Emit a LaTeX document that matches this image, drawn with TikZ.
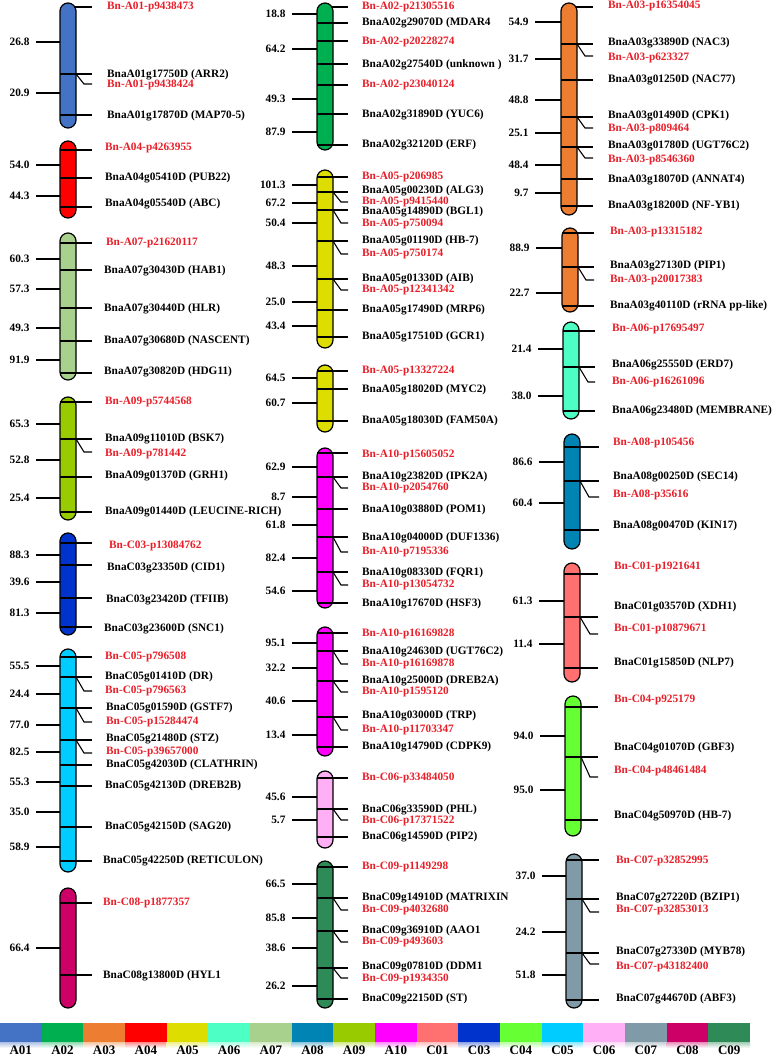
\documentclass[tikz,border=0pt]{standalone}
\usepackage{fontspec}
\setmainfont{Liberation Serif}
\usepackage{tikz}
\usepackage{xcolor}

\definecolor{cA01}{RGB}{68,114,196}
\definecolor{cA02}{RGB}{0,176,80}
\definecolor{cA03}{RGB}{237,125,49}
\definecolor{cA04}{RGB}{255,0,0}
\definecolor{cA05}{RGB}{221,221,0}
\definecolor{cA06}{RGB}{77,255,196}
\definecolor{cA07}{RGB}{169,209,142}
\definecolor{cA08}{RGB}{0,132,180}
\definecolor{cA09}{RGB}{153,204,0}
\definecolor{cA10}{RGB}{255,0,255}
\definecolor{cC01}{RGB}{255,112,112}
\definecolor{cC03}{RGB}{0,51,204}
\definecolor{cC04}{RGB}{102,255,51}
\definecolor{cC05}{RGB}{0,204,255}
\definecolor{cC06}{RGB}{255,175,245}
\definecolor{cC07}{RGB}{128,154,168}
\definecolor{cC08}{RGB}{204,0,102}
\definecolor{cC09}{RGB}{46,139,87}
\definecolor{snpred}{RGB}{232,30,40}

\newcommand{\lblfont}{\bfseries\fontsize{11.3}{13}\selectfont}

\begin{document}
\begin{tikzpicture}[x=1pt,y=-1pt,
  chr/.style={draw=black, line width=1.2pt, rounded corners=8pt},
  mk/.style={line width=1.1pt},
  tick/.style={line width=1.1pt},
  gene/.style={anchor=west, inner sep=0pt, font=\lblfont, text=black},
  snp/.style={gene, text=snpred},
  dist/.style={anchor=east, inner sep=0pt, xshift=-6pt, font=\lblfont},
  key/.style={inner sep=0pt, font=\bfseries\fontsize{13}{15}\selectfont}]
\useasboundingbox (0,0) rectangle (774,1057);

%%%%%%%%%%%%%%%% column 1
% A01
\begin{scope}[xshift=60pt]
  \draw[chr, fill=cA01] (0,3) rectangle (16,128);
  \draw[mk] (14,7) -- (32,7);
  \foreach \y in {74,115} \draw[mk] (0,\y) -- (32,\y);
  \draw[mk] (16,74) -- (24,84) -- (32,84);
  \foreach \y/\d in {42/26.8,93/20.9} \draw[tick] (0,\y) -- (-24,\y) node[dist] (A01d\y) {\d};
  \node[snp]  (A01m1) at (47,7)   {Bn-A01-p9438473};
  \node[gene] (A01g1) at (47,75)  {BnaA01g17750D (ARR2)};
  \node[snp]  (A01m2) at (47,85)  {Bn-A01-p9438424};
  \node[gene] (A01g2) at (47,116) {BnaA01g17870D (MAP70-5)};
\end{scope}
% A04
\begin{scope}[xshift=60pt]
  \draw[chr, fill=cA04] (0,141) rectangle (16,218);
  \foreach \y in {150,178,207} \draw[mk] (0,\y) -- (32,\y);
  \foreach \y/\d in {165/54.0,196/44.3} \draw[tick] (0,\y) -- (-24,\y) node[dist] (A04d\y) {\d};
  \node[snp]  (A04m1) at (45,148) {Bn-A04-p4263955};
  \node[gene] (A04g1) at (45,178) {BnaA04g05410D (PUB22)};
  \node[gene] (A04g2) at (45,204) {BnaA04g05540D (ABC)};
\end{scope}
% A07
\begin{scope}[xshift=60pt]
  \draw[chr, fill=cA07] (0,233) rectangle (16,380);
  \foreach \y in {243,270,308,341,373} \draw[mk] (0,\y) -- (32,\y);
  \foreach \y/\d in {259/60.3,289/57.3,328/49.3,360/91.9} \draw[tick] (0,\y) -- (-24,\y) node[dist] (A07d\y) {\d};
  \node[snp]  (A07m1) at (46,243) {Bn-A07-p21620117};
  \node[gene] (A07g1) at (44,271) {BnaA07g30430D (HAB1)};
  \node[gene] (A07g2) at (44,309) {BnaA07g30440D (HLR)};
  \node[gene] (A07g3) at (44,341) {BnaA07g30680D (NASCENT)};
  \node[gene] (A07g4) at (44,372) {BnaA07g30820D (HDG11)};
\end{scope}
% A09
\begin{scope}[xshift=60pt]
  \draw[chr, fill=cA09] (0,397) rectangle (16,520);
  \foreach \y in {402,439,477,512} \draw[mk] (0,\y) -- (32,\y);
  \draw[mk] (16,439) -- (24,452) -- (32,452);
  \foreach \y/\d in {424/65.3,460/52.8,498/25.4} \draw[tick] (0,\y) -- (-24,\y) node[dist] (A09d\y) {\d};
  \node[snp]  (A09m1) at (45,402) {Bn-A09-p5744568};
  \node[gene] (A09g1) at (45,439) {BnaA09g11010D (BSK7)};
  \node[snp]  (A09m2) at (45,454) {Bn-A09-p781442};
  \node[gene] (A09g2) at (45,476) {BnaA09g01370D (GRH1)};
  \node[gene] (A09g3) at (45,512) {BnaA09g01440D (LEUCINE-RICH)};
\end{scope}
% C03
\begin{scope}[xshift=60pt]
  \draw[chr, fill=cC03] (0,533) rectangle (16,635);
  \foreach \y in {543,565,598,627} \draw[mk] (0,\y) -- (32,\y);
  \foreach \y/\d in {555/88.3,582/39.6,613/81.3} \draw[tick] (0,\y) -- (-24,\y) node[dist] (C03d\y) {\d};
  \node[snp]  (C03m1) at (49,546) {Bn-C03-p13084762};
  \node[gene] (C03g1) at (47,568) {BnaC03g23350D (CID1)};
  \node[gene] (C03g2) at (46,600) {BnaC03g23420D (TFIIB)};
  \node[gene] (C03g3) at (44,629) {BnaC03g23600D (SNC1)};
\end{scope}
% C05
\begin{scope}[xshift=60pt]
  \draw[chr, fill=cC05] (0,649) rectangle (16,872);
  \foreach \y in {657,677,708,740,765,786,827,861} \draw[mk] (0,\y) -- (32,\y);
  \foreach \a/\b in {677/691,708/722,740/753} \draw[mk] (16,\a) -- (24,\b) -- (32,\b);
  \foreach \y/\d in {666/55.5,694/24.4,725/77.0,752/82.5,782/55.3,812/35.0,847/58.9}
    \draw[tick] (0,\y) -- (-24,\y) node[dist] (C05d\y) {\d};
  \node[snp]  (C05m1) at (45,657) {Bn-C05-p796508};
  \node[gene] (C05g1) at (45,677) {BnaC05g01410D (DR)};
  \node[snp]  (C05m2) at (45,691) {Bn-C05-p796563};
  \node[gene] (C05g2) at (46,708) {BnaC05g01590D (GSTF7)};
  \node[snp]  (C05m3) at (46,722) {Bn-C05-p15284474};
  \node[gene] (C05g3) at (46,739) {BnaC05g21480D (STZ)};
  \node[snp]  (C05m4) at (46,752) {Bn-C05-p39657000};
  \node[gene] (C05g4) at (46,765) {BnaC05g42030D (CLATHRIN)};
  \node[gene] (C05g5) at (45,786) {BnaC05g42130D (DREB2B)};
  \node[gene] (C05g6) at (45,827) {BnaC05g42150D (SAG20)};
  \node[gene] (C05g7) at (43,861) {BnaC05g42250D (RETICULON)};
\end{scope}
% C08
\begin{scope}[xshift=60pt]
  \draw[chr, fill=cC08] (0,888) rectangle (16,1008);
  \foreach \y in {903,975} \draw[mk] (0,\y) -- (32,\y);
  \draw[tick] (0,948) -- (-24,948) node[dist] (C08d948) {66.4};
  \node[snp]  (C08m1) at (43,903) {Bn-C08-p1877357};
  \node[gene] (C08g1) at (43,976) {BnaC08g13800D (HYL1};
\end{scope}

%%%%%%%%%%%%%%%% column 2
% A02
\begin{scope}[xshift=317pt]
  \draw[chr, fill=cA02] (0,3) rectangle (16,150);
  \draw[mk] (14,7) -- (31,7);
  \foreach \y in {23,41,64,85,114,145} \draw[mk] (0,\y) -- (31,\y);
  \foreach \y/\d in {14/18.8,49/64.2,99/49.3,132/87.9} \draw[tick] (0,\y) -- (-25,\y) node[dist] (A02d\y) {\d};
  \node[snp]  (A02m1) at (45,7)   {Bn-A02-p21305516};
  \node[gene] (A02g1) at (45,23)  {BnaA02g29070D (MDAR4};
  \node[snp]  (A02m2) at (45,42)  {Bn-A02-p20228274};
  \node[gene] (A02g2) at (45,65)  {BnaA02g27540D (unknown )};
  \node[snp]  (A02m3) at (45,85)  {Bn-A02-p23040124};
  \node[gene] (A02g3) at (45,115) {BnaA02g31890D (YUC6)};
  \node[gene] (A02g4) at (45,145) {BnaA02g32120D (ERF)};
\end{scope}
% A05 (upper part)
\begin{scope}[xshift=317pt]
  \draw[chr, fill=cA05] (0,170) rectangle (16,348);
  \foreach \y in {177,192,210,241,279,310,337} \draw[mk] (0,\y) -- (31,\y);
  \foreach \a/\b in {192/202,210/223,241/254,279/290} \draw[mk] (16,\a) -- (24,\b) -- (31,\b);
  \foreach \y/\d in {185/101.3,203/67.2,223/50.4,266/48.3,302/25.0,326/43.4}
    \draw[tick] (0,\y) -- (-25,\y) node[dist] (A05d\y) {\d};
  \node[snp]  (A05m1) at (45,177) {Bn-A05-p206985};
  \node[gene] (A05g1) at (45,191) {BnaA05g00230D (ALG3)};
  \node[snp]  (A05m2) at (45,202) {Bn-A05-p9415440};
  \node[gene] (A05g2) at (45,212) {BnaA05g14890D (BGL1)};
  \node[snp]  (A05m3) at (45,224) {Bn-A05-p750094};
  \node[gene] (A05g3) at (45,241) {BnaA05g01190D (HB-7)};
  \node[snp]  (A05m4) at (45,254) {Bn-A05-p750174};
  \node[gene] (A05g4) at (45,279) {BnaA05g01330D (AIB)};
  \node[snp]  (A05m5) at (45,290) {Bn-A05-p12341342};
  \node[gene] (A05g5) at (45,310) {BnaA05g17490D (MRP6)};
  \node[gene] (A05g6) at (45,337) {BnaA05g17510D (GCR1)};
\end{scope}
% A05 (lower part)
\begin{scope}[xshift=317pt]
  \draw[chr, fill=cA05] (0,365) rectangle (16,432);
  \foreach \y in {371,389,421} \draw[mk] (0,\y) -- (31,\y);
  \foreach \y/\d in {378/64.5,403/60.7} \draw[tick] (0,\y) -- (-25,\y) node[dist] (A05Bd\y) {\d};
  \node[snp]  (A05Bm1) at (45,371) {Bn-A05-p13327224};
  \node[gene] (A05Bg1) at (45,390) {BnaA05g18020D (MYC2)};
  \node[gene] (A05Bg2) at (45,421) {BnaA05g18030D (FAM50A)};
\end{scope}
% A10 (upper part)
\begin{scope}[xshift=317pt]
  \draw[chr, fill=cA10] (0,448) rectangle (16,608);
  \foreach \y in {453,477,509,537,572,603} \draw[mk] (0,\y) -- (31,\y);
  \foreach \a/\b in {477/488,537/552,572/585} \draw[mk] (16,\a) -- (24,\b) -- (31,\b);
  \foreach \y/\d in {467/62.9,497/8.7,525/61.8,558/82.4,591/54.6}
    \draw[tick] (0,\y) -- (-25,\y) node[dist] (A10d\y) {\d};
  \node[snp]  (A10m1) at (45,455) {Bn-A10-p15605052};
  \node[gene] (A10g1) at (45,477) {BnaA10g23820D (IPK2A)};
  \node[snp]  (A10m2) at (45,488) {Bn-A10-p2054760};
  \node[gene] (A10g2) at (45,510) {BnaA10g03880D (POM1)};
  \node[gene] (A10g3) at (45,538) {BnaA10g04000D (DUF1336)};
  \node[snp]  (A10m3) at (45,552) {Bn-A10-p7195336};
  \node[gene] (A10g4) at (45,573) {BnaA10g08330D (FQR1)};
  \node[snp]  (A10m4) at (45,585) {Bn-A10-p13054732};
  \node[gene] (A10g5) at (45,604) {BnaA10g17670D (HSF3)};
\end{scope}
% A10 (lower part)
\begin{scope}[xshift=317pt]
  \draw[chr, fill=cA10] (0,627) rectangle (16,756);
  \foreach \y in {633,651,681,717,747} \draw[mk] (0,\y) -- (31,\y);
  \foreach \a/\b in {651/664,681/692,717/730} \draw[mk] (16,\a) -- (24,\b) -- (31,\b);
  \foreach \y/\d in {643/95.1,668/32.2,701/40.6,735/13.4}
    \draw[tick] (0,\y) -- (-25,\y) node[dist] (A10Bd\y) {\d};
  \node[snp]  (A10Bm1) at (45,634) {Bn-A10-p16169828};
  \node[gene] (A10Bg1) at (45,652) {BnaA10g24630D (UGT76C2)};
  \node[snp]  (A10Bm2) at (45,664) {Bn-A10-p16169878};
  \node[gene] (A10Bg2) at (45,681) {BnaA10g25000D (DREB2A)};
  \node[snp]  (A10Bm3) at (45,692) {Bn-A10-p1595120};
  \node[gene] (A10Bg3) at (45,716) {BnaA10g03000D (TRP)};
  \node[snp]  (A10Bm4) at (45,730) {Bn-A10-p11703347};
  \node[gene] (A10Bg4) at (45,747) {BnaA10g14790D (CDPK9)};
\end{scope}
% C06
\begin{scope}[xshift=317pt]
  \draw[chr, fill=cC06] (0,771) rectangle (16,848);
  \foreach \y in {778,809,837} \draw[mk] (0,\y) -- (31,\y);
  \draw[mk] (16,809) -- (24,820) -- (31,820);
  \foreach \y/\d in {797/45.6,820/5.7} \draw[tick] (0,\y) -- (-25,\y) node[dist] (C06d\y) {\d};
  \node[snp]  (C06m1) at (45,778) {Bn-C06-p33484050};
  \node[gene] (C06g1) at (45,810) {BnaC06g33590D (PHL)};
  \node[snp]  (C06m2) at (45,821) {Bn-C06-p17371522};
  \node[gene] (C06g2) at (45,837) {BnaC06g14590D (PIP2)};
\end{scope}
% C09
\begin{scope}[xshift=317pt]
  \draw[chr, fill=cC09] (0,861) rectangle (16,1008);
  \foreach \y in {867,898,931,968,999} \draw[mk] (0,\y) -- (31,\y);
  \foreach \a/\b in {898/910,931/942,968/978} \draw[mk] (16,\a) -- (24,\b) -- (31,\b);
  \foreach \y/\d in {884/66.5,918/85.8,948/38.6,986/26.2}
    \draw[tick] (0,\y) -- (-25,\y) node[dist] (C09d\y) {\d};
  \node[snp]  (C09m1) at (45,867) {Bn-C09-p1149298};
  \node[gene] (C09g1) at (45,898) {BnaC09g14910D (MATRIXIN};
  \node[snp]  (C09m2) at (45,910) {Bn-C09-p4032680};
  \node[gene] (C09g2) at (45,931) {BnaC09g36910D (AAO1};
  \node[snp]  (C09m3) at (45,942) {Bn-C09-p493603};
  \node[gene] (C09g3) at (45,967) {BnaC09g07810D (DDM1};
  \node[snp]  (C09m4) at (45,979) {Bn-C09-p1934350};
  \node[gene] (C09g4) at (45,999) {BnaC09g22150D (ST)};
\end{scope}

%%%%%%%%%%%%%%%% column 3
% A03 (upper part)
\begin{scope}[xshift=561pt]
  \draw[chr, fill=cA03] (0,3) rectangle (16,215);
  \draw[mk] (14,7) -- (32,7);
  \foreach \y in {44,80,117,147,179,206} \draw[mk] (0,\y) -- (32,\y);
  \foreach \a/\b in {44/56,117/128,147/158} \draw[mk] (16,\a) -- (24,\b) -- (32,\b);
  \foreach \y/\d in {22/54.9,59/31.7,100/48.8,133/25.1,165/48.4,193/9.7}
    \draw[tick] (0,\y) -- (-26,\y) node[dist] (A03d\y) {\d};
  \node[snp]  (A03m1) at (47,6)   {Bn-A03-p16354045};
  \node[gene] (A03g1) at (47,43)  {BnaA03g33890D (NAC3)};
  \node[snp]  (A03m2) at (47,58)  {Bn-A03-p623327};
  \node[gene] (A03g2) at (47,80)  {BnaA03g01250D (NAC77)};
  \node[gene] (A03g3) at (47,116) {BnaA03g01490D (CPK1)};
  \node[snp]  (A03m3) at (47,129) {Bn-A03-p809464};
  \node[gene] (A03g4) at (47,146) {BnaA03g01780D (UGT76C2)};
  \node[snp]  (A03m4) at (47,160) {Bn-A03-p8546360};
  \node[gene] (A03g5) at (47,180) {BnaA03g18070D (ANNAT4)};
  \node[gene] (A03g6) at (47,206) {BnaA03g18200D (NF-YB1)};
\end{scope}
% A03 (lower part)
\begin{scope}[xshift=562pt]
  \draw[chr, fill=cA03] (0,228) rectangle (16,312);
  \foreach \y in {233,267,306} \draw[mk] (0,\y) -- (32,\y);
  \draw[mk] (16,267) -- (24,280) -- (32,280);
  \foreach \y/\d in {248/88.9,293/22.7} \draw[tick] (0,\y) -- (-26,\y) node[dist] (A03Bd\y) {\d};
  \node[snp]  (A03Bm1) at (48,232) {Bn-A03-p13315182};
  \node[gene] (A03Bg1) at (48,266) {BnaA03g27130D (PIP1)};
  \node[snp]  (A03Bm2) at (48,280) {Bn-A03-p20017383};
  \node[gene] (A03Bg2) at (48,306) {BnaA03g40110D (rRNA pp-like)};
\end{scope}
% A06
\begin{scope}[xshift=563pt]
  \draw[chr, fill=cA06] (0,322) rectangle (16,419);
  \foreach \y in {331,367,411} \draw[mk] (0,\y) -- (32,\y);
  \draw[mk] (16,367) -- (25,382) -- (32,382);
  \foreach \y/\d in {349/21.4,396/38.0} \draw[tick] (0,\y) -- (-25,\y) node[dist] (A06d\y) {\d};
  \node[snp]  (A06m1) at (49,329) {Bn-A06-p17695497};
  \node[gene] (A06g1) at (49,365) {BnaA06g25550D (ERD7)};
  \node[snp]  (A06m2) at (49,382) {Bn-A06-p16261096};
  \node[gene] (A06g2) at (49,411) {BnaA06g23480D (MEMBRANE)};
\end{scope}
% A08
\begin{scope}[xshift=564pt]
  \draw[chr, fill=cA08] (0,434) rectangle (16,549);
  \foreach \y in {447,481,530} \draw[mk] (0,\y) -- (35,\y);
  \draw[mk] (16,481) -- (25,497) -- (35,497);
  \foreach \y/\d in {462/86.6,503/60.4} \draw[tick] (0,\y) -- (-25,\y) node[dist] (A08d\y) {\d};
  \node[snp]  (A08m1) at (49,443) {Bn-A08-p105456};
  \node[gene] (A08g1) at (49,477) {BnaA08g00250D (SEC14)};
  \node[snp]  (A08m2) at (49,495) {Bn-A08-p35616};
  \node[gene] (A08g2) at (49,526) {BnaA08g00470D (KIN17)};
\end{scope}
% C01
\begin{scope}[xshift=564pt]
  \draw[chr, fill=cC01] (0,563) rectangle (16,682);
  \foreach \y in {574,617,668} \draw[mk] (0,\y) -- (34,\y);
  \draw[mk] (16,617) -- (26,634) -- (34,634);
  \foreach \y/\d in {601/61.3,644/11.4} \draw[tick] (0,\y) -- (-25,\y) node[dist] (C01d\y) {\d};
  \node[snp]  (C01m1) at (50,567) {Bn-C01-p1921641};
  \node[gene] (C01g1) at (50,607) {BnaC01g03570D (XDH1)};
  \node[snp]  (C01m2) at (50,629) {Bn-C01-p10879671};
  \node[gene] (C01g2) at (50,663) {BnaC01g15850D (NLP7)};
\end{scope}
% C04
\begin{scope}[xshift=565pt]
  \draw[chr, fill=cC04] (0,696) rectangle (16,836);
  \foreach \y in {707,757,820} \draw[mk] (0,\y) -- (33,\y);
  \draw[mk] (16,757) -- (25,777) -- (33,777);
  \foreach \y/\d in {736/94.0,790/95.0} \draw[tick] (0,\y) -- (-25,\y) node[dist] (C04d\y) {\d};
  \node[snp]  (C04m1) at (49,700) {Bn-C04-p925179};
  \node[gene] (C04g1) at (49,748) {BnaC04g01070D (GBF3)};
  \node[snp]  (C04m2) at (49,771) {Bn-C04-p48461484};
  \node[gene] (C04g2) at (49,816) {BnaC04g50970D (HB-7)};
\end{scope}
% C07
\begin{scope}[xshift=566pt]
  \draw[chr, fill=cC07] (0,854) rectangle (16,1008);
  \foreach \y in {860,899,953,1000} \draw[mk] (0,\y) -- (33,\y);
  \foreach \a/\b in {899/912,953/964} \draw[mk] (16,\a) -- (24,\b) -- (33,\b);
  \foreach \y/\d in {876/37.0,932/24.2,975/51.8} \draw[tick] (0,\y) -- (-24,\y) node[dist] (C07d\y) {\d};
  \node[snp]  (C07m1) at (50,861) {Bn-C07-p32852995};
  \node[gene] (C07g1) at (50,898) {BnaC07g27220D (BZIP1)};
  \node[snp]  (C07m2) at (50,910) {Bn-C07-p32853013};
  \node[gene] (C07g2) at (50,952) {BnaC07g27330D (MYB78)};
  \node[snp]  (C07m3) at (50,967) {Bn-C07-p43182400};
  \node[gene] (C07g3) at (50,999) {BnaC07g44670D (ABF3)};
\end{scope}

%%%%%%%%%%%%%%%% colour key
\foreach \c [count=\i from 0] in {A01,A02,A03,A04,A05,A06,A07,A08,A09,A10,C01,C03,C04,C05,C06,C07,C08,C09} {
  \fill[c\c] (\i*41.67,1023) rectangle ++(41.67,19);
  \shade[top color=c\c!45, bottom color=white] (\i*41.67,1042) rectangle ++(41.67,6);
  \node[key] (key\c) at (\i*41.67+20.8,1050) {\c};
}
\end{tikzpicture}
\end{document}
